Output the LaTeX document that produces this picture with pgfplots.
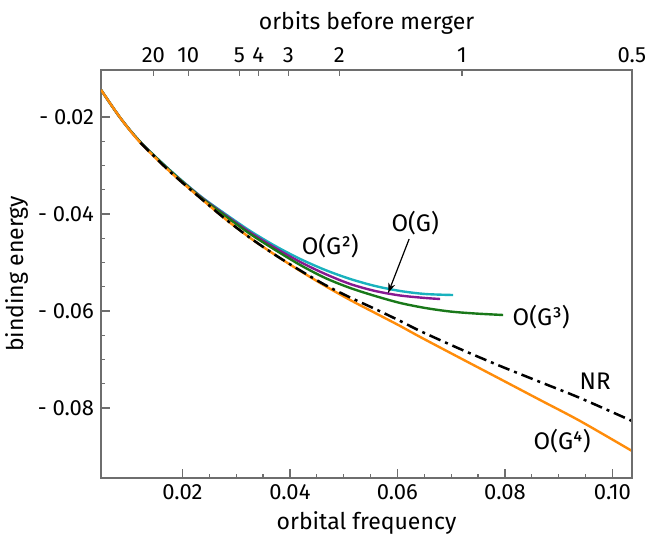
\documentclass[border=0pt]{standalone}
\usepackage{pgfplots}
\pgfplotsset{compat=1.18}
\usepackage{fontspec}
\setmainfont{Fira Sans}
\usetikzlibrary{arrows.meta}

\definecolor{og1}{RGB}{135,25,145}
\definecolor{og2}{RGB}{25,178,190}
\definecolor{og3}{RGB}{25,120,25}
\definecolor{og4}{RGB}{255,140,10}
\definecolor{frame}{RGB}{110,110,110}

\begin{document}
\begin{tikzpicture}
\useasboundingbox (-50.5pt,-28.5pt) rectangle (274.5pt,239pt);
\pgfplotsset{
  common/.style={
    at={(0,0)}, anchor=south west,
    scale only axis, width=265.5pt, height=204pt,
    xmin=0.00485, xmax=0.10364,
    ymin=-0.09444, ymax=-0.01031,
    scaled ticks=false,
    axis line style={frame, line width=0.6pt},
    every tick/.style={frame, line width=0.6pt},
    tick label style={font=\fontsize{11}{13}\selectfont},
    label style={font=\fontsize{11.5}{14}\selectfont},
  }
}
% main axis: orbital frequency vs binding energy
\begin{axis}[common,
    xtick pos=bottom, ytick pos=left,
    xtick={0.02,0.04,0.06,0.08,0.10},
    xticklabels={0.02,0.04,0.06,0.08,0.10},
    ytick={-0.08,-0.06,-0.04,-0.02},
    yticklabels={- 0.08,- 0.06,- 0.04,- 0.02},
    minor tick num=3,
    major tick length=4.5pt, minor tick length=2.2pt,
    xlabel={orbital frequency},
    ylabel={binding energy},
    xlabel style={yshift=1pt},
    ylabel style={yshift=-2pt},
    every axis plot/.append style={smooth, tension=0.5},
  ]
  % O(G^2)
  \addplot[og2, line width=1.2pt] coordinates {
    (0.00485,-0.01440) (0.00846,-0.02021) (0.01217,-0.02516) (0.01775,-0.03103)
    (0.02333,-0.03629) (0.02798,-0.04000) (0.03262,-0.04351) (0.03727,-0.04660)
    (0.04192,-0.04928) (0.04657,-0.05155) (0.05121,-0.05340) (0.05586,-0.05485)
    (0.06051,-0.05588) (0.06516,-0.05650) (0.07036,-0.05671)
  };
  % O(G)
  \addplot[og1, line width=1.2pt] coordinates {
    (0.00485,-0.01440) (0.00846,-0.02021) (0.01217,-0.02516) (0.01775,-0.03113)
    (0.02333,-0.03639) (0.02798,-0.04021) (0.03262,-0.04382) (0.03727,-0.04701)
    (0.04192,-0.04990) (0.04657,-0.05237) (0.05121,-0.05444) (0.05586,-0.05588)
    (0.06051,-0.05681) (0.06516,-0.05732) (0.06794,-0.05753)
  };
  % O(G^3)
  \addplot[og3, line width=1.2pt] coordinates {
    (0.00485,-0.01440) (0.00846,-0.02021) (0.01217,-0.02516) (0.01775,-0.03113)
    (0.02333,-0.03650) (0.02798,-0.04041) (0.03262,-0.04413) (0.03727,-0.04742)
    (0.04192,-0.05052) (0.04657,-0.05320) (0.05121,-0.05526) (0.05586,-0.05691)
    (0.06051,-0.05835) (0.06516,-0.05938) (0.06980,-0.06011) (0.07445,-0.06052)
    (0.07966,-0.06083)
  };
  % O(G^4)
  \addplot[og4, line width=1.2pt] coordinates {
    (0.00485,-0.01440) (0.00846,-0.02021) (0.01217,-0.02530) (0.01775,-0.03134)
    (0.02333,-0.03670) (0.02798,-0.04103) (0.03262,-0.04495) (0.03727,-0.04846)
    (0.04192,-0.05175) (0.04657,-0.05485) (0.05121,-0.05774) (0.05586,-0.06042)
    (0.06051,-0.06310) (0.06423,-0.06536) (0.07166,-0.06970) (0.07910,-0.07402)
    (0.08653,-0.07835) (0.09397,-0.08268) (0.10364,-0.08887)
  };
  % NR
  \addplot[black, line width=1.25pt, dash pattern=on 6pt off 2.5pt on 1.5pt off 2.5pt] coordinates {
    (0.01217,-0.02530) (0.01775,-0.03134) (0.02333,-0.03670) (0.02798,-0.04103)
    (0.03262,-0.04495) (0.03727,-0.04846) (0.04192,-0.05165) (0.04657,-0.05464)
    (0.05121,-0.05722) (0.05586,-0.05959) (0.06051,-0.06206) (0.06423,-0.06413)
    (0.07166,-0.06784) (0.07910,-0.07134) (0.08653,-0.07464) (0.09397,-0.07794)
    (0.10364,-0.08268)
  };
  \node[font=\fontsize{12}{14}\selectfont] at (axis cs:0.0475,-0.0466) {O(G²)};
  \node[font=\fontsize{12}{14}\selectfont] at (axis cs:0.0633,-0.04186) {O(G)};
  \node[font=\fontsize{12}{14}\selectfont] at (axis cs:0.08674,-0.06124) {O(G³)};
  \node[font=\fontsize{12}{14}\selectfont] at (axis cs:0.09678,-0.07444) {NR};
  \node[font=\fontsize{12}{14}\selectfont] at (axis cs:0.09064,-0.08681) {O(G⁴)};
  \draw[-{Stealth[length=5pt,width=3.5pt]}, line width=0.6pt]
    (axis cs:0.06218,-0.04516) -- (axis cs:0.05828,-0.05629);
\end{axis}
% top axis: orbits before merger, plus right-hand ticks
\begin{axis}[common,
    axis x line*=top, axis y line*=right,
    xtick={0.0146,0.0211,0.0306,0.0341,0.0397,0.0492,0.0720,0.1036},
    xticklabels={20,10,5,4,3,2,1,0.5},
    ytick=\empty,
    minor ytick={-0.09,-0.085,-0.08,-0.075,-0.07,-0.065,-0.06,-0.055,-0.05,-0.045,-0.04,-0.035,-0.03,-0.025,-0.02,-0.015},
    major tick length=3pt, minor tick length=1.8pt,
    tick align=inside,
    xlabel={orbits before merger},
  ]
\end{axis}
\end{tikzpicture}
\end{document}
